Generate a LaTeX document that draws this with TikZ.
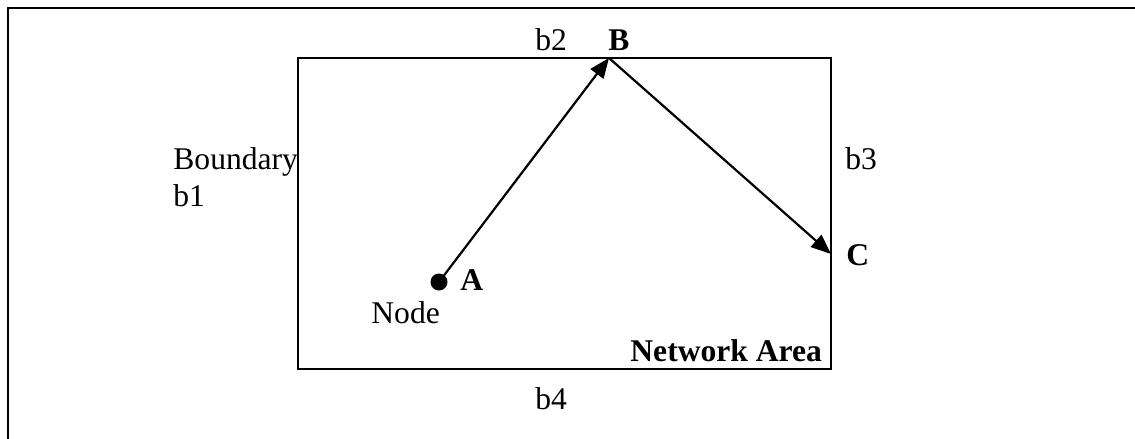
\documentclass[tikz,border=0pt]{standalone}
\usepackage{fontspec}
\setmainfont{Liberation Serif}
\usetikzlibrary{arrows.meta}
\begin{document}
\begin{tikzpicture}[x=0.5pt,y=-0.5pt,
  lbl/.style={anchor=base west,inner sep=0pt,font=\fontsize{15.8}{18}\selectfont},
  blbl/.style={lbl,font=\fontsize{15.8}{18}\selectfont\bfseries},
  frame/.style={draw=black,line width=1.1pt},
  link/.style={draw=black,line width=1.1pt,-{Triangle[length=10pt,width=8pt]}},
  dot/.style={circle,fill=black,inner sep=0pt,minimum size=8.5pt}]
\useasboundingbox (0,0) rectangle (1135,439);
\draw[frame] (8,460) -- (8,8) -- (1150,8);
\draw[frame] (297.7,57.7) rectangle (831.3,369.3);
\node[dot] (A) at (439,282) {};
\coordinate (B) at (609,58);
\coordinate (C) at (831,254);
\draw[link] (A.center) -- (B);
\draw[link] (B) -- (C);
\node[lbl] (bnd) at (173,169.3) {Boundary};
\node[lbl] (b1) at (173,206) {b1};
\node[lbl] (b2) at (535,50) {b2};
\node[blbl] (Bl) at (608,50) {B};
\node[lbl] (b3) at (845,169.3) {b3};
\node[blbl] (Cl) at (846,265.7) {C};
\node[blbl] (Al) at (460,290) {A};
\node[lbl] (nd) at (371,323.3) {Node};
\node[blbl] (na) at (630,361.7) {Network Area};
\node[lbl] (b4) at (535,409.3) {b4};
\end{tikzpicture}
\end{document}
